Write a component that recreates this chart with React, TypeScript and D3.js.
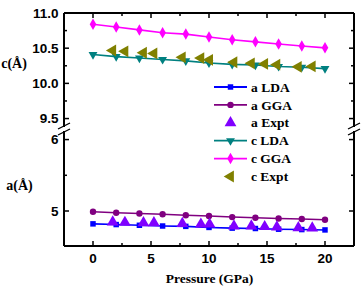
import React, { useEffect, useRef } from 'react';
import * as d3 from 'd3';

// pressures (GPa)
const calcPressure = [0, 2, 4, 6, 8, 10, 12, 14, 16, 18, 20];
const exptPressure = [1.7, 2.75, 4.35, 5.25, 7.7, 9.3, 10.05, 12.15, 13.65, 14.8, 15.85, 17.7, 18.9];

// lattice constant a (Å)
const aLDA = [4.82, 4.81, 4.8, 4.79, 4.785, 4.77, 4.76, 4.755, 4.745, 4.74, 4.735];
const aGGA = [4.99, 4.975, 4.965, 4.955, 4.94, 4.93, 4.915, 4.905, 4.895, 4.888, 4.877];
const aExpt = [4.845, 4.84, 4.835, 4.835, 4.825, 4.815, 4.815, 4.79, 4.79, 4.78, 4.776, 4.765, 4.762];

// lattice constant c (Å)
const cLDA = [10.41, 10.38, 10.36, 10.34, 10.32, 10.29, 10.27, 10.26, 10.24, 10.23, 10.21];
const cGGA = [10.84, 10.8, 10.76, 10.72, 10.7, 10.66, 10.62, 10.59, 10.56, 10.53, 10.505];
const cExpt = [10.467, 10.455, 10.435, 10.425, 10.37, 10.36, 10.335, 10.3, 10.285, 10.277, 10.265, 10.235, 10.24];

const xTicks = [0, 5, 10, 15, 20];
const xMinor = [2.5, 7.5, 12.5, 17.5];
const cTicks = [9.5, 10.0, 10.5, 11.0];
const cMinor = [9.75, 10.25, 10.75];
const aTicks = [5, 6];
const aMinor = [5.5];

const series = [
  { name: 'a LDA', panel: 'a', px: calcPressure, v: aLDA, color: '#0000ff', sym: 'square', line: true },
  { name: 'a GGA', panel: 'a', px: calcPressure, v: aGGA, color: '#800080', sym: 'circle', line: true },
  { name: 'a Expt', panel: 'a', px: exptPressure, v: aExpt, color: '#8000ff', sym: 'up', line: false },
  { name: 'c LDA', panel: 'c', px: calcPressure, v: cLDA, color: '#008080', sym: 'down', line: true },
  { name: 'c GGA', panel: 'c', px: calcPressure, v: cGGA, color: '#ff00ff', sym: 'diamond', line: true },
  { name: 'c Expt', panel: 'c', px: exptPressure, v: cExpt, color: '#808000', sym: 'left', line: false },
];

const symbolPath = (sym: string) => {
  switch (sym) {
    case 'square': return { d: d3.symbol(d3.symbolSquare, 30)(), rot: 0 };
    case 'circle': return { d: d3.symbol(d3.symbolCircle, 32)(), rot: 0 };
    case 'up': return { d: d3.symbol(d3.symbolTriangle, 60)(), rot: 0 };
    case 'down': return { d: d3.symbol(d3.symbolTriangle, 34)(), rot: 180 };
    case 'diamond': return { d: d3.symbol(d3.symbolDiamond, 38)(), rot: 0 };
    default: return { d: d3.symbol(d3.symbolTriangle, 60)(), rot: -90 };
  }
};

export default function App() {
  const ref = useRef<SVGSVGElement>(null);

  useEffect(() => {
    const svg = d3.select(ref.current);
    svg.selectAll('*').remove();

    const left = 64, right = 354, top = 13, bottom = 246;
    const cBottom = 127, aTop = 131;

    const x = d3.scaleLinear().domain([-2.5, 22.5]).range([left, right]);
    const yc = d3.scaleLinear().domain([9.38, 11.0]).range([cBottom, top]);
    const ya = d3.scaleLinear().domain([4.51, 6.12]).range([bottom, aTop]);

    const tickFont = 'Liberation Sans, Arial, sans-serif';
    const serif = 'Liberation Serif, Times New Roman, serif';

    // data
    series.forEach(s => {
      const y = s.panel === 'a' ? ya : yc;
      const pts = s.px.map((p, i) => [x(p), y(s.v[i])] as [number, number]);
      if (s.line) {
        svg.append('path')
          .attr('d', d3.line()(pts))
          .attr('fill', 'none')
          .attr('stroke', s.color)
          .attr('stroke-width', 1.6);
      }
      const sp = symbolPath(s.sym);
      svg.append('g').selectAll('path')
        .data(pts)
        .enter()
        .append('path')
        .attr('d', sp.d)
        .attr('transform', d => `translate(${d[0]},${d[1]}) rotate(${sp.rot})`)
        .attr('fill', s.color);
    });

    // frame
    const ax = svg.append('g').attr('stroke', '#000').attr('stroke-width', 2).attr('fill', 'none');
    ax.append('line').attr('x1', left).attr('x2', right).attr('y1', top).attr('y2', top);
    ax.append('line').attr('x1', left).attr('x2', right).attr('y1', bottom).attr('y2', bottom);
    [left, right].forEach(xx => {
      ax.append('line').attr('x1', xx).attr('x2', xx).attr('y1', top).attr('y2', cBottom);
      ax.append('line').attr('x1', xx).attr('x2', xx).attr('y1', aTop).attr('y2', bottom);
      // break marks
      [cBottom - 1, aTop + 1].forEach(yy => {
        ax.append('line')
          .attr('x1', xx - 6).attr('y1', yy + 3)
          .attr('x2', xx + 6).attr('y2', yy - 3)
          .attr('stroke-width', 1.3);
      });
    });

    // ticks (inward)
    const tk = svg.append('g').attr('stroke', '#000').attr('stroke-width', 1.5);
    const xt = (vals: number[], len: number) => vals.forEach(v => {
      tk.append('line').attr('x1', x(v)).attr('x2', x(v)).attr('y1', bottom).attr('y2', bottom - len);
      tk.append('line').attr('x1', x(v)).attr('x2', x(v)).attr('y1', top).attr('y2', top + len);
    });
    xt(xTicks, 5);
    xt(xMinor, 3);
    const yt = (scale: d3.ScaleLinear<number, number>, vals: number[], len: number) => vals.forEach(v => {
      tk.append('line').attr('x1', left).attr('x2', left + len).attr('y1', scale(v)).attr('y2', scale(v));
      tk.append('line').attr('x1', right).attr('x2', right - len).attr('y1', scale(v)).attr('y2', scale(v));
    });
    yt(yc, cTicks, 5);
    yt(yc, cMinor, 3);
    yt(ya, aTicks, 5);
    yt(ya, aMinor, 3);

    // tick labels
    const lbl = svg.append('g')
      .attr('font-family', tickFont)
      .attr('font-weight', 'bold')
      .attr('font-size', 13.5)
      .attr('fill', '#000');
    xTicks.forEach(v => {
      lbl.append('text').attr('x', x(v)).attr('y', 262.5).attr('text-anchor', 'middle').text(v);
    });
    cTicks.forEach(v => {
      lbl.append('text').attr('x', 58.5).attr('y', yc(v) + 4.8).attr('text-anchor', 'end').text(v.toFixed(1));
    });
    aTicks.forEach(v => {
      lbl.append('text').attr('x', 58.5).attr('y', ya(v) + 4.8).attr('text-anchor', 'end').text(v);
    });

    // axis titles
    const tt = svg.append('g')
      .attr('font-family', serif)
      .attr('font-weight', 'bold')
      .attr('fill', '#000');
    tt.append('text').attr('x', 14).attr('y', 68).attr('font-size', 14).attr('text-anchor', 'middle').text('c(Å)');
    tt.append('text').attr('x', 19.5).attr('y', 190).attr('font-size', 14).attr('text-anchor', 'middle').text('a(Å)');
    tt.append('text').attr('x', 209.5).attr('y', 283).attr('font-size', 13.5).attr('text-anchor', 'middle').text('Pressure (GPa)');

    // legend
    const lg = svg.append('g');
    series.forEach((s, i) => {
      const yy = 87 + i * 17.9;
      if (s.line) {
        lg.append('line').attr('x1', 214).attr('x2', 247).attr('y1', yy).attr('y2', yy)
          .attr('stroke', s.color).attr('stroke-width', 1.8);
      }
      const sp = symbolPath(s.sym);
      lg.append('path').attr('d', sp.d)
        .attr('transform', `translate(230.5,${yy}) rotate(${sp.rot})`)
        .attr('fill', s.color);
      lg.append('text')
        .attr('x', 251)
        .attr('y', yy + 4.6)
        .attr('font-family', serif)
        .attr('font-weight', 'bold')
        .attr('font-size', 13.5)
        .attr('fill', '#000')
        .text(s.name);
    });
  }, []);

  return (
    <svg
      ref={ref}
      width={361}
      height={288}
      style={{ position: 'absolute', left: 0, top: 0, background: '#fff' }}
    />
  );
}
